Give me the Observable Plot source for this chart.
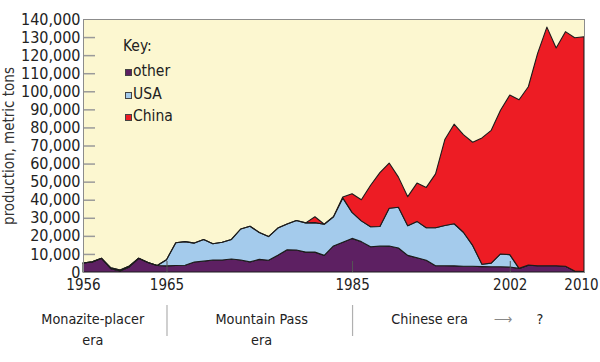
<!DOCTYPE html>
<html>
<head>
<meta charset="utf-8">
<script src="https://cdn.jsdelivr.net/npm/d3@7"></script>
<script src="https://cdn.jsdelivr.net/npm/@observablehq/plot@0.6"></script>
<style>
  body { margin: 0; background: #fff; }
  #wrap { position: relative; width: 600px; height: 362px; font-family: "DejaVu Sans Condensed", "DejaVu Sans", sans-serif; color: #222; }
  #chart svg { display: block; overflow: visible; }
  .k { position: absolute; white-space: nowrap; line-height: 1; }
  .sw { position: absolute; width: 5px; height: 5px; border: 1px solid #444; }
</style>
</head>
<body>
<div id="wrap"><div id="chart"></div></div>
<script>
const years = [1956,1957,1958,1959,1960,1961,1962,1963,1964,1965,1966,1967,1968,1969,1970,1971,1972,1973,1974,1975,1976,1977,1978,1979,1980,1981,1982,1983,1984,1985,1986,1987,1988,1989,1990,1991,1992,1993,1994,1995,1996,1997,1998,1999,2000,2001,2002,2003,2004,2005,2006,2007,2008,2009,2010];
const other = [5000,5600,7600,1800,600,2800,7600,5300,3600,3400,3600,3700,5500,6000,6600,6600,7200,6600,5600,7000,6500,9300,12300,12200,11000,11000,9200,14400,16500,18600,16800,14000,14300,14400,13300,9200,7900,6500,3500,3500,3400,3200,3200,3000,2900,2900,2800,2000,3800,3500,3500,3500,3200,500,300];
const usa = [0,0,0,500,500,500,0,0,0,3400,12600,13100,10500,12000,9000,9900,10800,17200,19700,14900,13100,15000,14300,16300,16200,16300,17200,16200,24500,14400,11500,11000,10900,20900,22500,16400,20100,18000,21000,22200,23300,18800,11500,1300,2000,7100,6800,0,0,0,0,0,0,0,0];
const china = [0,0,0,0,0,0,0,0,0,0,0,0,0,0,0,0,0,0,0,0,0,0,0,0,0,3300,0,0,500,10300,11700,23000,29800,25000,16700,16100,21200,22300,29800,47600,55100,54000,57100,69900,73500,79500,88300,93300,98700,117500,132000,120500,129800,129100,129900];
const seriesNames = ["other", "USA", "China"];
const seriesColors = ["#5d2062", "#a4cbec", "#ed1c24"];
const yTicks = [0,10000,20000,30000,40000,50000,60000,70000,80000,90000,100000,110000,120000,130000,140000];
const xTicks = [1956, 1965, 1985, 2002, 2010];
const eraNames = ["Monazite-placer\nera", "Mountain Pass\nera", "Chinese era", "⟶", "?"];
const eraYears = [1957, 1975.2, 1993.3, 2001.2, 2005.2];
const eraBounds = [1965, 1985];
const yLabel = "production, metric tons";

const bySeries = {other: other, USA: usa, China: china};
const table = seriesNames.flatMap(s => years.map((year, i) => ({year, series: s, value: bySeries[s][i]})));

const FONT = '"DejaVu Sans Condensed", "DejaVu Sans", sans-serif';

const chart = Plot.plot({
  width: 600,
  height: 362,
  marginTop: 19,
  marginRight: 16,
  marginBottom: 90,
  marginLeft: 83,
  style: {fontFamily: FONT, fontSize: "16px", color: "#222", background: "transparent", overflow: "visible"},
  x: {domain: [1956, 2010]},
  y: {domain: [0, 140000]},
  color: {domain: seriesNames, range: seriesColors},
  marks: [
    Plot.frame({fill: "#fcf7d0"}),
    Plot.areaY(table, {x: "year", y: "value", fill: "series", order: seriesNames, stroke: "#1c1c1c", strokeWidth: 1.1, strokeLinejoin: "round"}),
    Plot.ruleY(yTicks.slice(1, -1), {insetRight: 489, stroke: "#9a9a9a", strokeWidth: 1.5}),
    Plot.ruleX(xTicks.slice(1, -1), {insetTop: 242, stroke: "#555"}),
    Plot.frame({stroke: "#8c8c8c"}),
    Plot.axisY({ticks: yTicks, tickSize: 0, tickPadding: 3, tickFormat: d3.format(","), label: null, fill: "#222", fontSize: 16}),
    Plot.axisX({ticks: xTicks.slice(0, -1), tickSize: 0, tickPadding: 7, tickFormat: "d", label: null, fill: "#222", fontSize: 15}),
    Plot.axisX({ticks: xTicks.slice(-1), tickSize: 0, tickPadding: 7, dx: -3, tickFormat: "d", label: null, fill: "#222", fontSize: 15}),
    Plot.text([yLabel], {frameAnchor: "left", textAnchor: "middle", dx: -74, rotate: -90, fontSize: 15, fill: "#333", text: d => d}),
    Plot.ruleX(eraBounds, {insetTop: 286, insetBottom: -64, stroke: "#b0b0b0", strokeWidth: 1.2}),
    Plot.text(eraNames, {x: (d, i) => eraYears[i], text: d => d, frameAnchor: "bottom", dy: 36.5, lineAnchor: "top", lineHeight: 1.47, fontSize: 14.3, fill: (d, i) => i === 3 ? "#888" : "#222"})
  ]
});
document.getElementById("chart").appendChild(chart);

// Legend ("Key")
const wrap = d3.select("#wrap");
wrap.append("div").attr("class", "k").style("left", "123px").style("top", "39px").style("font-size", "15.5px").text("Key:");
seriesNames.forEach((s, i) => {
  const cy = 72 + i * 22.5;
  wrap.append("div").attr("class", "sw").style("left", "125px").style("top", (cy - 3) + "px").style("background", seriesColors[i]);
  wrap.append("div").attr("class", "k").style("left", "133px").style("top", (cy - 8) + "px").style("font-size", "15.5px").text(s);
});
</script>
</body>
</html>
